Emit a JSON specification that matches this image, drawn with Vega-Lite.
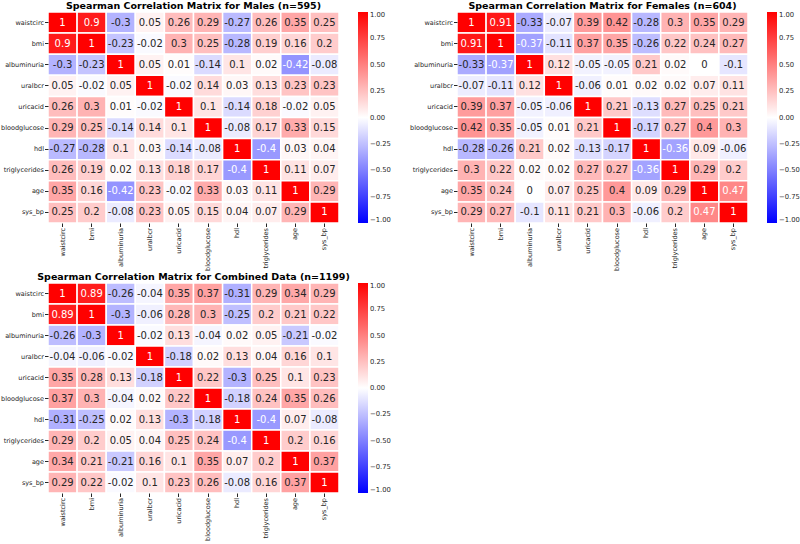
{
  "$schema": "https://vega.github.io/schema/vega-lite/v6.json",
  "padding": {"left": 0, "top": 0, "right": 0, "bottom": 0},
  "background": "white",
  "config": {
    "font": "DejaVu Sans",
    "view": {"stroke": null},
    "title": {"fontSize": 9.5, "fontWeight": "bold", "color": "#000000", "offset": 1},
    "axis": {"domain": false, "labelFontSize": 6.5, "labelColor": "#262626", "tickColor": "#262626", "tickSize": 3.5, "title": null, "labelPadding": 1},
    "legend": {"labelFontSize": 6.8, "labelColor": "#262626", "gradientThickness": 10, "offset": 19, "labelOverlap": false, "gradientStrokeWidth": 0}
  },
  "datasets": {
    "males": [
      {"row":"waistcirc","col":"waistcirc","value":1},{"row":"waistcirc","col":"bmi","value":0.9},{"row":"waistcirc","col":"albuminuria","value":-0.3},{"row":"waistcirc","col":"uralbcr","value":0.05},{"row":"waistcirc","col":"uricacid","value":0.26},{"row":"waistcirc","col":"bloodglucose","value":0.29},{"row":"waistcirc","col":"hdl","value":-0.27},{"row":"waistcirc","col":"triglycerides","value":0.26},{"row":"waistcirc","col":"age","value":0.35},{"row":"waistcirc","col":"sys_bp","value":0.25},
      {"row":"bmi","col":"waistcirc","value":0.9},{"row":"bmi","col":"bmi","value":1},{"row":"bmi","col":"albuminuria","value":-0.23},{"row":"bmi","col":"uralbcr","value":-0.02},{"row":"bmi","col":"uricacid","value":0.3},{"row":"bmi","col":"bloodglucose","value":0.25},{"row":"bmi","col":"hdl","value":-0.28},{"row":"bmi","col":"triglycerides","value":0.19},{"row":"bmi","col":"age","value":0.16},{"row":"bmi","col":"sys_bp","value":0.2},
      {"row":"albuminuria","col":"waistcirc","value":-0.3},{"row":"albuminuria","col":"bmi","value":-0.23},{"row":"albuminuria","col":"albuminuria","value":1},{"row":"albuminuria","col":"uralbcr","value":0.05},{"row":"albuminuria","col":"uricacid","value":0.01},{"row":"albuminuria","col":"bloodglucose","value":-0.14},{"row":"albuminuria","col":"hdl","value":0.1},{"row":"albuminuria","col":"triglycerides","value":0.02},{"row":"albuminuria","col":"age","value":-0.42},{"row":"albuminuria","col":"sys_bp","value":-0.08},
      {"row":"uralbcr","col":"waistcirc","value":0.05},{"row":"uralbcr","col":"bmi","value":-0.02},{"row":"uralbcr","col":"albuminuria","value":0.05},{"row":"uralbcr","col":"uralbcr","value":1},{"row":"uralbcr","col":"uricacid","value":-0.02},{"row":"uralbcr","col":"bloodglucose","value":0.14},{"row":"uralbcr","col":"hdl","value":0.03},{"row":"uralbcr","col":"triglycerides","value":0.13},{"row":"uralbcr","col":"age","value":0.23},{"row":"uralbcr","col":"sys_bp","value":0.23},
      {"row":"uricacid","col":"waistcirc","value":0.26},{"row":"uricacid","col":"bmi","value":0.3},{"row":"uricacid","col":"albuminuria","value":0.01},{"row":"uricacid","col":"uralbcr","value":-0.02},{"row":"uricacid","col":"uricacid","value":1},{"row":"uricacid","col":"bloodglucose","value":0.1},{"row":"uricacid","col":"hdl","value":-0.14},{"row":"uricacid","col":"triglycerides","value":0.18},{"row":"uricacid","col":"age","value":-0.02},{"row":"uricacid","col":"sys_bp","value":0.05},
      {"row":"bloodglucose","col":"waistcirc","value":0.29},{"row":"bloodglucose","col":"bmi","value":0.25},{"row":"bloodglucose","col":"albuminuria","value":-0.14},{"row":"bloodglucose","col":"uralbcr","value":0.14},{"row":"bloodglucose","col":"uricacid","value":0.1},{"row":"bloodglucose","col":"bloodglucose","value":1},{"row":"bloodglucose","col":"hdl","value":-0.08},{"row":"bloodglucose","col":"triglycerides","value":0.17},{"row":"bloodglucose","col":"age","value":0.33},{"row":"bloodglucose","col":"sys_bp","value":0.15},
      {"row":"hdl","col":"waistcirc","value":-0.27},{"row":"hdl","col":"bmi","value":-0.28},{"row":"hdl","col":"albuminuria","value":0.1},{"row":"hdl","col":"uralbcr","value":0.03},{"row":"hdl","col":"uricacid","value":-0.14},{"row":"hdl","col":"bloodglucose","value":-0.08},{"row":"hdl","col":"hdl","value":1},{"row":"hdl","col":"triglycerides","value":-0.4},{"row":"hdl","col":"age","value":0.03},{"row":"hdl","col":"sys_bp","value":0.04},
      {"row":"triglycerides","col":"waistcirc","value":0.26},{"row":"triglycerides","col":"bmi","value":0.19},{"row":"triglycerides","col":"albuminuria","value":0.02},{"row":"triglycerides","col":"uralbcr","value":0.13},{"row":"triglycerides","col":"uricacid","value":0.18},{"row":"triglycerides","col":"bloodglucose","value":0.17},{"row":"triglycerides","col":"hdl","value":-0.4},{"row":"triglycerides","col":"triglycerides","value":1},{"row":"triglycerides","col":"age","value":0.11},{"row":"triglycerides","col":"sys_bp","value":0.07},
      {"row":"age","col":"waistcirc","value":0.35},{"row":"age","col":"bmi","value":0.16},{"row":"age","col":"albuminuria","value":-0.42},{"row":"age","col":"uralbcr","value":0.23},{"row":"age","col":"uricacid","value":-0.02},{"row":"age","col":"bloodglucose","value":0.33},{"row":"age","col":"hdl","value":0.03},{"row":"age","col":"triglycerides","value":0.11},{"row":"age","col":"age","value":1},{"row":"age","col":"sys_bp","value":0.29},
      {"row":"sys_bp","col":"waistcirc","value":0.25},{"row":"sys_bp","col":"bmi","value":0.2},{"row":"sys_bp","col":"albuminuria","value":-0.08},{"row":"sys_bp","col":"uralbcr","value":0.23},{"row":"sys_bp","col":"uricacid","value":0.05},{"row":"sys_bp","col":"bloodglucose","value":0.15},{"row":"sys_bp","col":"hdl","value":0.04},{"row":"sys_bp","col":"triglycerides","value":0.07},{"row":"sys_bp","col":"age","value":0.29},{"row":"sys_bp","col":"sys_bp","value":1}
    ],
    "females": [
      {"row":"waistcirc","col":"waistcirc","value":1},{"row":"waistcirc","col":"bmi","value":0.91},{"row":"waistcirc","col":"albuminuria","value":-0.33},{"row":"waistcirc","col":"uralbcr","value":-0.07},{"row":"waistcirc","col":"uricacid","value":0.39},{"row":"waistcirc","col":"bloodglucose","value":0.42},{"row":"waistcirc","col":"hdl","value":-0.28},{"row":"waistcirc","col":"triglycerides","value":0.3},{"row":"waistcirc","col":"age","value":0.35},{"row":"waistcirc","col":"sys_bp","value":0.29},
      {"row":"bmi","col":"waistcirc","value":0.91},{"row":"bmi","col":"bmi","value":1},{"row":"bmi","col":"albuminuria","value":-0.37},{"row":"bmi","col":"uralbcr","value":-0.11},{"row":"bmi","col":"uricacid","value":0.37},{"row":"bmi","col":"bloodglucose","value":0.35},{"row":"bmi","col":"hdl","value":-0.26},{"row":"bmi","col":"triglycerides","value":0.22},{"row":"bmi","col":"age","value":0.24},{"row":"bmi","col":"sys_bp","value":0.27},
      {"row":"albuminuria","col":"waistcirc","value":-0.33},{"row":"albuminuria","col":"bmi","value":-0.37},{"row":"albuminuria","col":"albuminuria","value":1},{"row":"albuminuria","col":"uralbcr","value":0.12},{"row":"albuminuria","col":"uricacid","value":-0.05},{"row":"albuminuria","col":"bloodglucose","value":-0.05},{"row":"albuminuria","col":"hdl","value":0.21},{"row":"albuminuria","col":"triglycerides","value":0.02},{"row":"albuminuria","col":"age","value":0},{"row":"albuminuria","col":"sys_bp","value":-0.1},
      {"row":"uralbcr","col":"waistcirc","value":-0.07},{"row":"uralbcr","col":"bmi","value":-0.11},{"row":"uralbcr","col":"albuminuria","value":0.12},{"row":"uralbcr","col":"uralbcr","value":1},{"row":"uralbcr","col":"uricacid","value":-0.06},{"row":"uralbcr","col":"bloodglucose","value":0.01},{"row":"uralbcr","col":"hdl","value":0.02},{"row":"uralbcr","col":"triglycerides","value":0.02},{"row":"uralbcr","col":"age","value":0.07},{"row":"uralbcr","col":"sys_bp","value":0.11},
      {"row":"uricacid","col":"waistcirc","value":0.39},{"row":"uricacid","col":"bmi","value":0.37},{"row":"uricacid","col":"albuminuria","value":-0.05},{"row":"uricacid","col":"uralbcr","value":-0.06},{"row":"uricacid","col":"uricacid","value":1},{"row":"uricacid","col":"bloodglucose","value":0.21},{"row":"uricacid","col":"hdl","value":-0.13},{"row":"uricacid","col":"triglycerides","value":0.27},{"row":"uricacid","col":"age","value":0.25},{"row":"uricacid","col":"sys_bp","value":0.21},
      {"row":"bloodglucose","col":"waistcirc","value":0.42},{"row":"bloodglucose","col":"bmi","value":0.35},{"row":"bloodglucose","col":"albuminuria","value":-0.05},{"row":"bloodglucose","col":"uralbcr","value":0.01},{"row":"bloodglucose","col":"uricacid","value":0.21},{"row":"bloodglucose","col":"bloodglucose","value":1},{"row":"bloodglucose","col":"hdl","value":-0.17},{"row":"bloodglucose","col":"triglycerides","value":0.27},{"row":"bloodglucose","col":"age","value":0.4},{"row":"bloodglucose","col":"sys_bp","value":0.3},
      {"row":"hdl","col":"waistcirc","value":-0.28},{"row":"hdl","col":"bmi","value":-0.26},{"row":"hdl","col":"albuminuria","value":0.21},{"row":"hdl","col":"uralbcr","value":0.02},{"row":"hdl","col":"uricacid","value":-0.13},{"row":"hdl","col":"bloodglucose","value":-0.17},{"row":"hdl","col":"hdl","value":1},{"row":"hdl","col":"triglycerides","value":-0.36},{"row":"hdl","col":"age","value":0.09},{"row":"hdl","col":"sys_bp","value":-0.06},
      {"row":"triglycerides","col":"waistcirc","value":0.3},{"row":"triglycerides","col":"bmi","value":0.22},{"row":"triglycerides","col":"albuminuria","value":0.02},{"row":"triglycerides","col":"uralbcr","value":0.02},{"row":"triglycerides","col":"uricacid","value":0.27},{"row":"triglycerides","col":"bloodglucose","value":0.27},{"row":"triglycerides","col":"hdl","value":-0.36},{"row":"triglycerides","col":"triglycerides","value":1},{"row":"triglycerides","col":"age","value":0.29},{"row":"triglycerides","col":"sys_bp","value":0.2},
      {"row":"age","col":"waistcirc","value":0.35},{"row":"age","col":"bmi","value":0.24},{"row":"age","col":"albuminuria","value":0},{"row":"age","col":"uralbcr","value":0.07},{"row":"age","col":"uricacid","value":0.25},{"row":"age","col":"bloodglucose","value":0.4},{"row":"age","col":"hdl","value":0.09},{"row":"age","col":"triglycerides","value":0.29},{"row":"age","col":"age","value":1},{"row":"age","col":"sys_bp","value":0.47},
      {"row":"sys_bp","col":"waistcirc","value":0.29},{"row":"sys_bp","col":"bmi","value":0.27},{"row":"sys_bp","col":"albuminuria","value":-0.1},{"row":"sys_bp","col":"uralbcr","value":0.11},{"row":"sys_bp","col":"uricacid","value":0.21},{"row":"sys_bp","col":"bloodglucose","value":0.3},{"row":"sys_bp","col":"hdl","value":-0.06},{"row":"sys_bp","col":"triglycerides","value":0.2},{"row":"sys_bp","col":"age","value":0.47},{"row":"sys_bp","col":"sys_bp","value":1}
    ],
    "combined": [
      {"row":"waistcirc","col":"waistcirc","value":1},{"row":"waistcirc","col":"bmi","value":0.89},{"row":"waistcirc","col":"albuminuria","value":-0.26},{"row":"waistcirc","col":"uralbcr","value":-0.04},{"row":"waistcirc","col":"uricacid","value":0.35},{"row":"waistcirc","col":"bloodglucose","value":0.37},{"row":"waistcirc","col":"hdl","value":-0.31},{"row":"waistcirc","col":"triglycerides","value":0.29},{"row":"waistcirc","col":"age","value":0.34},{"row":"waistcirc","col":"sys_bp","value":0.29},
      {"row":"bmi","col":"waistcirc","value":0.89},{"row":"bmi","col":"bmi","value":1},{"row":"bmi","col":"albuminuria","value":-0.3},{"row":"bmi","col":"uralbcr","value":-0.06},{"row":"bmi","col":"uricacid","value":0.28},{"row":"bmi","col":"bloodglucose","value":0.3},{"row":"bmi","col":"hdl","value":-0.25},{"row":"bmi","col":"triglycerides","value":0.2},{"row":"bmi","col":"age","value":0.21},{"row":"bmi","col":"sys_bp","value":0.22},
      {"row":"albuminuria","col":"waistcirc","value":-0.26},{"row":"albuminuria","col":"bmi","value":-0.3},{"row":"albuminuria","col":"albuminuria","value":1},{"row":"albuminuria","col":"uralbcr","value":-0.02},{"row":"albuminuria","col":"uricacid","value":0.13},{"row":"albuminuria","col":"bloodglucose","value":-0.04},{"row":"albuminuria","col":"hdl","value":0.02},{"row":"albuminuria","col":"triglycerides","value":0.05},{"row":"albuminuria","col":"age","value":-0.21},{"row":"albuminuria","col":"sys_bp","value":-0.02},
      {"row":"uralbcr","col":"waistcirc","value":-0.04},{"row":"uralbcr","col":"bmi","value":-0.06},{"row":"uralbcr","col":"albuminuria","value":-0.02},{"row":"uralbcr","col":"uralbcr","value":1},{"row":"uralbcr","col":"uricacid","value":-0.18},{"row":"uralbcr","col":"bloodglucose","value":0.02},{"row":"uralbcr","col":"hdl","value":0.13},{"row":"uralbcr","col":"triglycerides","value":0.04},{"row":"uralbcr","col":"age","value":0.16},{"row":"uralbcr","col":"sys_bp","value":0.1},
      {"row":"uricacid","col":"waistcirc","value":0.35},{"row":"uricacid","col":"bmi","value":0.28},{"row":"uricacid","col":"albuminuria","value":0.13},{"row":"uricacid","col":"uralbcr","value":-0.18},{"row":"uricacid","col":"uricacid","value":1},{"row":"uricacid","col":"bloodglucose","value":0.22},{"row":"uricacid","col":"hdl","value":-0.3},{"row":"uricacid","col":"triglycerides","value":0.25},{"row":"uricacid","col":"age","value":0.1},{"row":"uricacid","col":"sys_bp","value":0.23},
      {"row":"bloodglucose","col":"waistcirc","value":0.37},{"row":"bloodglucose","col":"bmi","value":0.3},{"row":"bloodglucose","col":"albuminuria","value":-0.04},{"row":"bloodglucose","col":"uralbcr","value":0.02},{"row":"bloodglucose","col":"uricacid","value":0.22},{"row":"bloodglucose","col":"bloodglucose","value":1},{"row":"bloodglucose","col":"hdl","value":-0.18},{"row":"bloodglucose","col":"triglycerides","value":0.24},{"row":"bloodglucose","col":"age","value":0.35},{"row":"bloodglucose","col":"sys_bp","value":0.26},
      {"row":"hdl","col":"waistcirc","value":-0.31},{"row":"hdl","col":"bmi","value":-0.25},{"row":"hdl","col":"albuminuria","value":0.02},{"row":"hdl","col":"uralbcr","value":0.13},{"row":"hdl","col":"uricacid","value":-0.3},{"row":"hdl","col":"bloodglucose","value":-0.18},{"row":"hdl","col":"hdl","value":1},{"row":"hdl","col":"triglycerides","value":-0.4},{"row":"hdl","col":"age","value":0.07},{"row":"hdl","col":"sys_bp","value":-0.08},
      {"row":"triglycerides","col":"waistcirc","value":0.29},{"row":"triglycerides","col":"bmi","value":0.2},{"row":"triglycerides","col":"albuminuria","value":0.05},{"row":"triglycerides","col":"uralbcr","value":0.04},{"row":"triglycerides","col":"uricacid","value":0.25},{"row":"triglycerides","col":"bloodglucose","value":0.24},{"row":"triglycerides","col":"hdl","value":-0.4},{"row":"triglycerides","col":"triglycerides","value":1},{"row":"triglycerides","col":"age","value":0.2},{"row":"triglycerides","col":"sys_bp","value":0.16},
      {"row":"age","col":"waistcirc","value":0.34},{"row":"age","col":"bmi","value":0.21},{"row":"age","col":"albuminuria","value":-0.21},{"row":"age","col":"uralbcr","value":0.16},{"row":"age","col":"uricacid","value":0.1},{"row":"age","col":"bloodglucose","value":0.35},{"row":"age","col":"hdl","value":0.07},{"row":"age","col":"triglycerides","value":0.2},{"row":"age","col":"age","value":1},{"row":"age","col":"sys_bp","value":0.37},
      {"row":"sys_bp","col":"waistcirc","value":0.29},{"row":"sys_bp","col":"bmi","value":0.22},{"row":"sys_bp","col":"albuminuria","value":-0.02},{"row":"sys_bp","col":"uralbcr","value":0.1},{"row":"sys_bp","col":"uricacid","value":0.23},{"row":"sys_bp","col":"bloodglucose","value":0.26},{"row":"sys_bp","col":"hdl","value":-0.08},{"row":"sys_bp","col":"triglycerides","value":0.16},{"row":"sys_bp","col":"age","value":0.37},{"row":"sys_bp","col":"sys_bp","value":1}
    ]
  },
  "spacing": 0,
  "vconcat": [
    {
      "spacing": 18,
      "hconcat": [
        {
          "title": "Spearman Correlation Matrix for Males (n=595)",
          "width": 291, "height": 211,
          "data": {"name": "males"},
          "encoding": {
            "x": {"field": "col", "type": "nominal", "sort": ["waistcirc","bmi","albuminuria","uralbcr","uricacid","bloodglucose","hdl","triglycerides","age","sys_bp"], "axis": {"labelAngle": -90}},
            "y": {"field": "row", "type": "nominal", "sort": ["waistcirc","bmi","albuminuria","uralbcr","uricacid","bloodglucose","hdl","triglycerides","age","sys_bp"]}
          },
          "layer": [
            {"mark": {"type": "rect", "stroke": "white", "strokeWidth": 1.5},
             "encoding": {"color": {"field": "value", "type": "quantitative", "scale": {"domain": [-1, 0, 1], "range": ["#0000ff", "#ffffff", "#ff0000"], "interpolate": "rgb"}, "legend": {"title": null, "gradientLength": 211, "values": [-1,-0.75,-0.5,-0.25,0,0.25,0.5,0.75,1], "format": ".2f"}}}},
            {"mark": {"type": "text", "fontSize": 10},
             "encoding": {"text": {"field": "value", "type": "nominal"}, "color": {"condition": {"test": "datum.value >= 0.46 || datum.value <= -0.355", "value": "#ffffff"}, "value": "#262626"}}}
          ]
        },
        {
          "title": "Spearman Correlation Matrix for Females (n=604)",
          "width": 291, "height": 211,
          "data": {"name": "females"},
          "encoding": {
            "x": {"field": "col", "type": "nominal", "sort": ["waistcirc","bmi","albuminuria","uralbcr","uricacid","bloodglucose","hdl","triglycerides","age","sys_bp"], "axis": {"labelAngle": -90}},
            "y": {"field": "row", "type": "nominal", "sort": ["waistcirc","bmi","albuminuria","uralbcr","uricacid","bloodglucose","hdl","triglycerides","age","sys_bp"]}
          },
          "layer": [
            {"mark": {"type": "rect", "stroke": "white", "strokeWidth": 1.5},
             "encoding": {"color": {"field": "value", "type": "quantitative", "scale": {"domain": [-1, 0, 1], "range": ["#0000ff", "#ffffff", "#ff0000"], "interpolate": "rgb"}, "legend": {"title": null, "gradientLength": 211, "values": [-1,-0.75,-0.5,-0.25,0,0.25,0.5,0.75,1], "format": ".2f"}}}},
            {"mark": {"type": "text", "fontSize": 10},
             "encoding": {"text": {"field": "value", "type": "nominal"}, "color": {"condition": {"test": "datum.value >= 0.46 || datum.value <= -0.355", "value": "#ffffff"}, "value": "#262626"}}}
          ]
        }
      ],
      "resolve": {"scale": {"color": "independent"}}
    },
    {
      "title": "Spearman Correlation Matrix for Combined Data (n=1199)",
      "width": 291, "height": 210,
      "data": {"name": "combined"},
      "encoding": {
        "x": {"field": "col", "type": "nominal", "sort": ["waistcirc","bmi","albuminuria","uralbcr","uricacid","bloodglucose","hdl","triglycerides","age","sys_bp"], "axis": {"labelAngle": -90}},
        "y": {"field": "row", "type": "nominal", "sort": ["waistcirc","bmi","albuminuria","uralbcr","uricacid","bloodglucose","hdl","triglycerides","age","sys_bp"]}
      },
      "layer": [
        {"mark": {"type": "rect", "stroke": "white", "strokeWidth": 1.5},
         "encoding": {"color": {"field": "value", "type": "quantitative", "scale": {"domain": [-1, 0, 1], "range": ["#0000ff", "#ffffff", "#ff0000"], "interpolate": "rgb"}, "legend": {"title": null, "gradientLength": 210, "values": [-1,-0.75,-0.5,-0.25,0,0.25,0.5,0.75,1], "format": ".2f"}}}},
        {"mark": {"type": "text", "fontSize": 10},
         "encoding": {"text": {"field": "value", "type": "nominal"}, "color": {"condition": {"test": "datum.value >= 0.46 || datum.value <= -0.355", "value": "#ffffff"}, "value": "#262626"}}}
      ]
    }
  ],
  "resolve": {"scale": {"color": "independent", "x": "independent", "y": "independent"}}
}
